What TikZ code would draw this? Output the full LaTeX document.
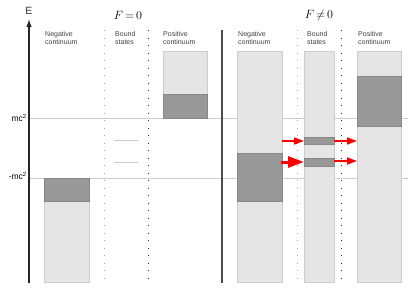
\documentclass[tikz,border=0pt]{standalone}
\usepackage{fontspec}
\setsansfont{Liberation Sans}
\usetikzlibrary{arrows.meta}

\begin{document}
\begin{tikzpicture}[x=1pt,y=-1pt,font=\sffamily,line cap=butt,
  band/.style={fill=black!10,draw=black!20,line width=0.8pt},
  occupied/.style={fill=black!40,draw=black!47,line width=0.8pt},
  level/.style={black!20,line width=0.7pt},
  dotsfaint/.style={black!35,line width=1pt,dash pattern=on 1pt off 6.5pt},
  dotsdark/.style={black!85,line width=1pt,dash pattern=on 1pt off 6.5pt},
  caption/.style={anchor=north west,align=left,inner sep=0pt,
    font=\sffamily\fontsize{7}{8.5}\selectfont,text=black!75},
  flow/.style={red,line width=1.6pt,-{Triangle[length=10pt,width=7pt]}},
  bigflow/.style={red,line width=3pt,-{Triangle[length=16pt,width=11pt]}}]
\useasboundingbox (0,0) rectangle (415,297);

% energy axis and reference levels
\draw[level] (30,118) -- (408,118);
\draw[level] (30,178) -- (408,178);
\draw[black!85,line width=1.2pt,-{Latex[length=8pt,width=5.5pt]}] (29,283) -- (29,19);
\node[font=\sffamily\fontsize{10.5}{12}\selectfont,text=black!80] (E) at (29,11) {E};
\node[anchor=east,inner sep=0pt,font=\sffamily\fontsize{8.5}{10}\selectfont] (mcplus) at (27,118) {mc\textsuperscript{2}};
\node[anchor=east,inner sep=0pt,font=\sffamily\fontsize{8.5}{10}\selectfont] (mcminus) at (27,176) {-mc\textsuperscript{2}};

% F = 0
\node[font=\fontsize{13}{15}\selectfont] (free) at (128,15) {$F\,{=}\,0$};
\node[caption] (negA) at (45,31) {Negative\\continuum};
\node[caption] (boundA) at (115,31) {Bound\\states};
\node[caption] (posA) at (163,31) {Positive\\continuum};
\draw[dotsfaint] (104,30) -- (104,280);
\draw[dotsdark] (148,30) -- (148,280);
\draw[band] (163,51) rectangle (207,118);
\draw[occupied] (163,94) rectangle (207,118);
\draw[band] (44,178) rectangle (89,282);
\draw[occupied] (44,178) rectangle (89,201);
\draw[level] (114,140) -- (138,140);
\draw[level] (114,162) -- (138,162);

% F != 0
\draw[black!70,line width=1.2pt] (222,30) -- (222,283);
\node[font=\fontsize{13}{15}\selectfont] (field) at (319,15) {$F\,{\neq}\,0$};
\node[caption] (negB) at (238,31) {Negative\\continuum};
\node[caption] (boundB) at (307,31) {Bound\\states};
\node[caption] (posB) at (358,31) {Positive\\continuum};
\draw[dotsfaint] (297,30) -- (297,280);
\draw[dotsdark] (341,30) -- (341,280);
\draw[band] (237,51) rectangle (282,282);
\draw[occupied] (237,153) rectangle (282,201);
\draw[band] (304,51) rectangle (334,282);
\draw[occupied] (304,137) rectangle (334,144);
\draw[occupied] (304,158) rectangle (334,166);
\draw[band] (357,51) rectangle (401,282);
\draw[occupied] (357,76) rectangle (401,126);

% tunnelling
\coordinate (n1) at (282,141);
\coordinate (b1) at (304,141);
\coordinate (b1r) at (334,141);
\coordinate (p1) at (357,141);
\coordinate (n2) at (281,162);
\coordinate (b2) at (304,162);
\coordinate (b2r) at (334,161);
\coordinate (p2) at (357,161);
\draw[flow] (n1) -- (b1);
\draw[flow] (b1r) -- (p1);
\draw[bigflow] (n2) -- (b2);
\draw[flow] (b2r) -- (p2);
\end{tikzpicture}
\end{document}
